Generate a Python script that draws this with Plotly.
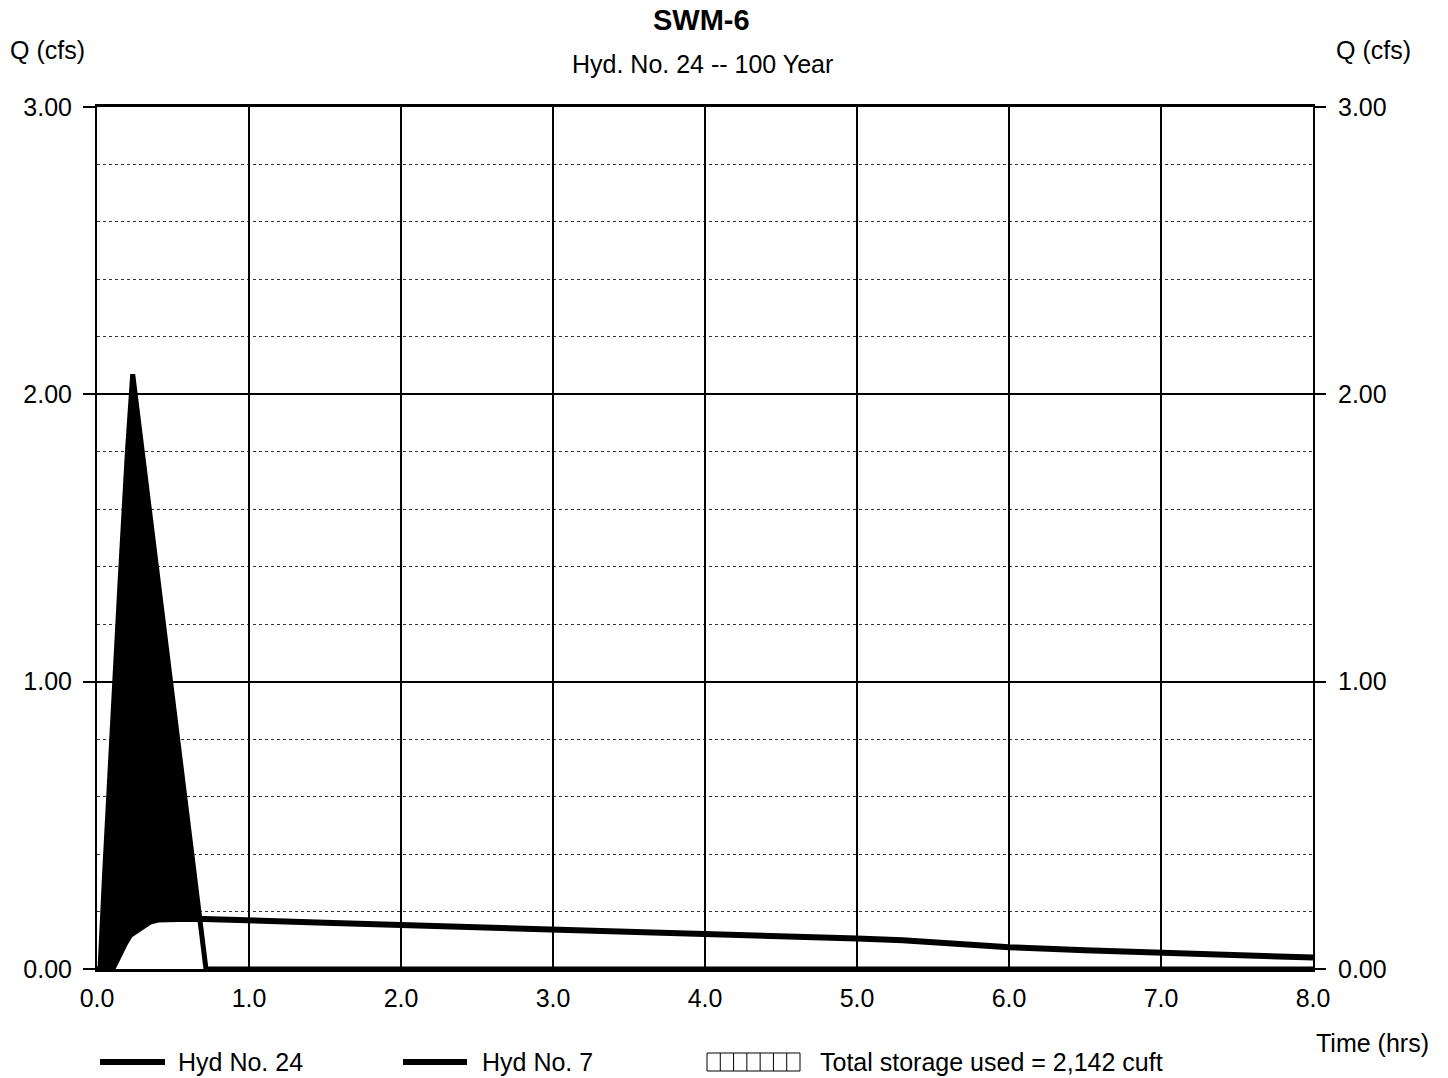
import plotly.graph_objects as go

# ---- data ----
inflow_t = [0.00, 0.02, 0.05, 0.10, 0.15, 0.20, 0.235, 0.30, 0.40, 0.50, 0.60, 0.70, 0.717, 1.00, 8.00]
inflow_q = [0.00, 0.00, 0.33, 0.85, 1.33, 1.80, 2.07, 1.79, 1.36, 0.93, 0.50, 0.07, 0.00, 0.00, 0.00]

outflow_t = [0.00, 0.10, 0.12, 0.15, 0.18, 0.217, 0.25, 0.30, 0.35, 0.40, 0.50, 0.60, 0.70, 0.80,
             1.00, 1.50, 2.00, 2.50, 3.00, 3.50, 4.00, 4.50, 5.00, 5.30, 5.50, 6.00, 6.50, 7.00, 7.50, 8.00]
outflow_q = [0.00, 0.00, 0.02, 0.055, 0.085, 0.118, 0.13, 0.150, 0.165, 0.172, 0.175, 0.175, 0.174, 0.173,
             0.170, 0.161, 0.153, 0.146, 0.138, 0.131, 0.124, 0.115, 0.106, 0.100, 0.093, 0.076, 0.065, 0.055, 0.047, 0.040]

x_ticks = [0, 1, 2, 3, 4, 5, 6, 7, 8]
x_tick_text = ["0.0", "1.0", "2.0", "3.0", "4.0", "5.0", "6.0", "7.0", "8.0"]
y_ticks = [0, 1, 2, 3]
y_tick_text = ["0.00", "1.00", "2.00", "3.00"]

title_text = "SWM-6"
subtitle_text = "Hyd. No. 24 -- 100 Year"
legend_names = ["Hyd No. 24", "Hyd No. 7", "Total storage used = 2,142 cuft"]
inflow_end = 0.72      # end of inflow hydrograph (storage region limit)
fill_limit = 0.80

FONT = "Liberation Sans, Arial, Helvetica, sans-serif"
FS = 25

fig = go.Figure()

# storage region: black under inflow, then white under outflow (within inflow duration)
st_t = [t for t in inflow_t if t <= inflow_end]
st_q = [q for t, q in zip(inflow_t, inflow_q) if t <= inflow_end]
fig.add_trace(go.Scatter(x=st_t, y=st_q, mode="lines", line=dict(width=0, color="black"),
                         fill="tozeroy", fillcolor="black", showlegend=False, hoverinfo="skip"))
wt = [t for t in outflow_t if t <= fill_limit]
wq = [q for t, q in zip(outflow_t, outflow_q) if t <= fill_limit]
fig.add_trace(go.Scatter(x=wt, y=wq, mode="lines", line=dict(width=0, color="white"),
                         fill="tozeroy", fillcolor="white", showlegend=False, hoverinfo="skip"))

# hydrograph lines (on overlaying right axis so they are drawn on top)
fig.add_trace(go.Scatter(x=outflow_t, y=outflow_q, mode="lines", yaxis="y2",
                         line=dict(color="black", width=6), name=legend_names[1], showlegend=False))
fig.add_trace(go.Scatter(x=inflow_t, y=inflow_q, mode="lines", yaxis="y2",
                         line=dict(color="black", width=5), name=legend_names[0], showlegend=False))

tickfont = dict(family=FONT, size=FS, color="black")

fig.update_layout(
    width=1448, height=1078,
    margin=dict(l=97, r=135, t=107, b=109),
    paper_bgcolor="white", plot_bgcolor="white",
    font=dict(family=FONT, color="black"),
    xaxis=dict(range=[0, 8], tickvals=x_ticks, ticktext=x_tick_text, tickfont=tickfont,
               showgrid=True, gridcolor="black", gridwidth=2,
               showline=True, linecolor="black", linewidth=3, mirror=True,
               ticks="outside", ticklen=5, tickcolor="rgba(0,0,0,0)", zeroline=False),
    yaxis=dict(range=[0, 3], tickvals=y_ticks, ticktext=y_tick_text, tickfont=tickfont,
               showgrid=True, gridcolor="black", gridwidth=2,
               minor=dict(dtick=0.2, showgrid=True, gridcolor="#333", gridwidth=1, griddash="dot"),
               showline=True, linecolor="black", linewidth=2, mirror=True,
               ticks="outside", ticklen=12, tickwidth=2, tickcolor="black",
               ticklabelstandoff=6, zeroline=False),
    yaxis2=dict(range=[0, 3], overlaying="y", side="right", tickvals=y_ticks, ticktext=y_tick_text,
                tickfont=tickfont, showgrid=False, zeroline=False, showline=False,
                ticks="outside", ticklen=12, tickwidth=2, tickcolor="black", ticklabelstandoff=7),
    showlegend=False,
)

def px_x(px):
    return (px - 97) / 1216.0

def px_y(py):
    return (969 - py) / 862.0

annots = [
    dict(text="<b>" + title_text + "</b>", x=px_x(701), y=px_y(20), size=29),
    dict(text=subtitle_text, x=px_x(702), y=px_y(64), size=FS),
    dict(text="Q (cfs)", x=px_x(47), y=px_y(50), size=FS),
    dict(text="Q (cfs)", x=px_x(1373), y=px_y(50), size=FS),
    dict(text="Time (hrs)", x=px_x(1372), y=px_y(1043), size=FS),
]
for a in annots:
    fig.add_annotation(text=a["text"], x=a["x"], y=a["y"], xref="paper", yref="paper",
                       showarrow=False, xanchor="center", yanchor="middle",
                       font=dict(family=FONT, size=a["size"], color="black"))

# legend (manual)
ly = px_y(1062)
for (x0, x1, tx, name) in [(100, 165, 176, legend_names[0]), (403, 467, 480, legend_names[1])]:
    fig.add_shape(type="line", xref="paper", yref="paper", x0=px_x(x0), x1=px_x(x1), y0=ly, y1=ly,
                  line=dict(color="black", width=6))
    fig.add_annotation(text=name, x=px_x(tx), y=ly, xref="paper", yref="paper", showarrow=False,
                       xanchor="left", yanchor="middle", font=dict(family=FONT, size=FS, color="black"))
bx0, bx1, by0, by1 = 707, 800, 1053, 1071
fig.add_shape(type="rect", xref="paper", yref="paper", x0=px_x(bx0), x1=px_x(bx1), y0=px_y(by1), y1=px_y(by0),
              line=dict(color="black", width=1), fillcolor="white")
for i in range(1, 7):
    xx = bx0 + (bx1 - bx0) * i / 7.0
    fig.add_shape(type="line", xref="paper", yref="paper", x0=px_x(xx), x1=px_x(xx), y0=px_y(by1), y1=px_y(by0),
                  line=dict(color="black", width=1))
fig.add_annotation(text=legend_names[2], x=px_x(818), y=ly, xref="paper", yref="paper", showarrow=False,
                   xanchor="left", yanchor="middle", font=dict(family=FONT, size=FS, color="black"))

fig.write_html("out.html", config={"displayModeBar": False},
               post_script="document.body.style.margin='0';document.body.style.padding='0';")
